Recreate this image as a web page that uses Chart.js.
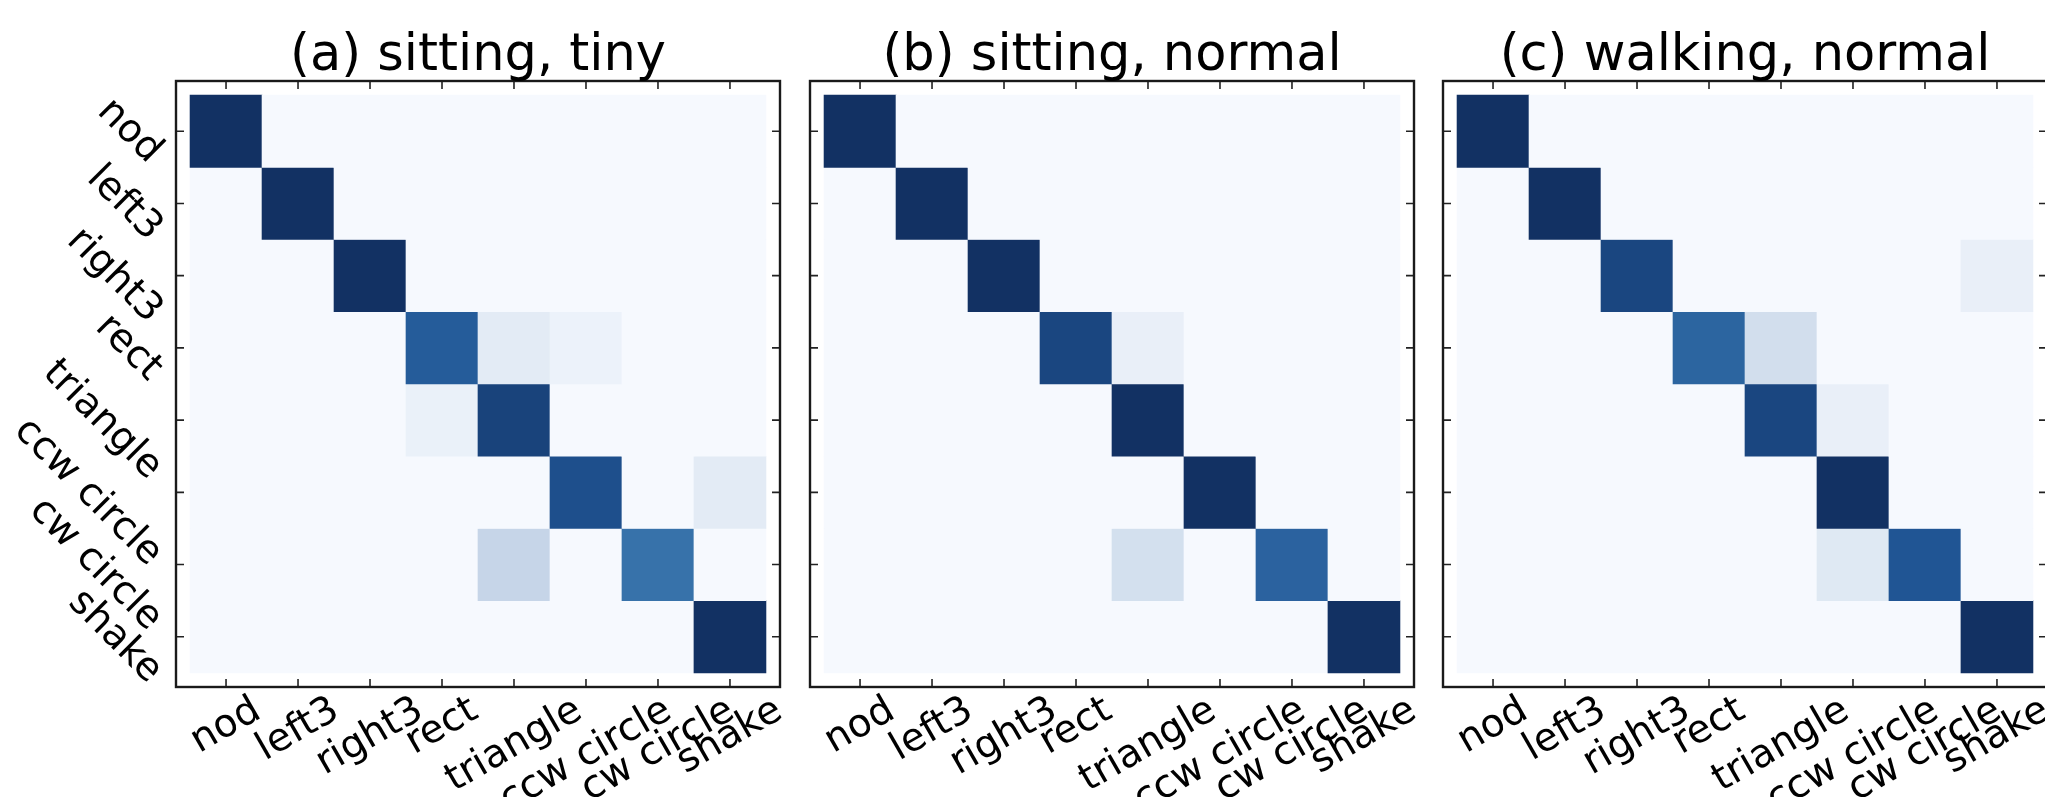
<!DOCTYPE html>
<html>
<head>
<meta charset="utf-8">
<script src="https://cdn.jsdelivr.net/npm/chart.js@4.4.1/dist/chart.umd.min.js"></script>
<style>
    html, body { margin: 0; padding: 0; background: #fff; overflow: hidden; }
    body { width: 2045px; height: 797px; position: relative; }
    canvas { position: absolute; top: 0; }
</style>
</head>
<body>
<canvas id="panelA" width="820" height="797" style="left:0px"></canvas>
<canvas id="panelB" width="820" height="797" style="left:634px"></canvas>
<canvas id="panelC" width="820" height="797" style="left:1267px"></canvas>
<script>
// Gesture classes (rows = true, columns = predicted)
const gestures = ['nod', 'left3', 'right3', 'rect', 'triangle', 'ccw circle', 'cw circle', 'shake'];
const titles = ['(a) sitting, tiny', '(b) sitting, normal', '(c) walking, normal'];

// Normalised confusion matrices, one row per true gesture
const sittingTiny = [
    [1, 0, 0, 0, 0, 0, 0, 0],
    [0, 1, 0, 0, 0, 0, 0, 0],
    [0, 0, 1, 0, 0, 0, 0, 0],
    [0, 0, 0, 0.85, 0.10, 0.05, 0, 0],
    [0, 0, 0, 0.06, 0.94, 0, 0, 0],
    [0, 0, 0, 0, 0, 0.90, 0, 0.10],
    [0, 0, 0, 0, 0.25, 0, 0.75, 0],
    [0, 0, 0, 0, 0, 0, 0, 1]
];
const sittingNormal = [
    [1, 0, 0, 0, 0, 0, 0, 0],
    [0, 1, 0, 0, 0, 0, 0, 0],
    [0, 0, 1, 0, 0, 0, 0, 0],
    [0, 0, 0, 0.93, 0.07, 0, 0, 0],
    [0, 0, 0, 0, 1, 0, 0, 0],
    [0, 0, 0, 0, 0, 1, 0, 0],
    [0, 0, 0, 0, 0.18, 0, 0.82, 0],
    [0, 0, 0, 0, 0, 0, 0, 1]
];
const walkingNormal = [
    [1, 0, 0, 0, 0, 0, 0, 0],
    [0, 1, 0, 0, 0, 0, 0, 0],
    [0, 0, 0.93, 0, 0, 0, 0, 0.07],
    [0, 0, 0, 0.81, 0.19, 0, 0, 0],
    [0, 0, 0, 0, 0.93, 0.07, 0, 0],
    [0, 0, 0, 0, 0, 1, 0, 0],
    [0, 0, 0, 0, 0, 0.12, 0.88, 0],
    [0, 0, 0, 0, 0, 0, 0, 1]
];

// Blues-like colour ramp
const rampStops = [
    [0.0, [246, 249, 254]],
    [0.125, [222, 232, 243]],
    [0.25, [198, 213, 232]],
    [0.375, [160, 190, 220]],
    [0.5, [115, 160, 200]],
    [0.625, [80, 135, 185]],
    [0.75, [55, 114, 170]],
    [0.875, [33, 86, 150]],
    [1.0, [18, 49, 99]]
];

const FONT = '"DejaVu Sans", "Liberation Sans", sans-serif';
const TICK_FONT = 39;
const TITLE_FONT = 51;
const MARGIN = 0.195;   // axes margin around the image, in cells

function blues(v) {
    for (let i = 1; i < rampStops.length; i++) {
        const [p1, c1] = rampStops[i];
        const [p0, c0] = rampStops[i - 1];
        if (v <= p1) {
            const t = (v - p0) / (p1 - p0);
            const c = c0.map((a, k) => Math.round(a + (c1[k] - a) * t));
            return `rgb(${c[0]}, ${c[1]}, ${c[2]})`;
        }
    }
    const c = rampStops[rampStops.length - 1][1];
    return `rgb(${c[0]}, ${c[1]}, ${c[2]})`;
}

// Draws the frame, inward ticks, rotated tick labels and the title
const framePlugin = {
    id: 'frame',
    beforeDatasetsDraw(chart) {
        const { ctx, scales: { x, y } } = chart;
        const n = gestures.length;
        const x0 = x.getPixelForValue(-0.5), x1 = x.getPixelForValue(n - 0.5);
        const y0 = y.getPixelForValue(-0.5), y1 = y.getPixelForValue(n - 0.5);
        ctx.save();
        ctx.fillStyle = blues(0);
        ctx.fillRect(x0, y0, x1 - x0, y1 - y0);
        ctx.restore();
    },
    afterDraw(chart, args, opts) {
        const { ctx, chartArea: area, scales: { x, y } } = chart;
        ctx.save();

        // ticks pointing inwards on all four sides
        ctx.strokeStyle = '#222';
        ctx.lineWidth = 1.6;
        const len = 8;
        gestures.forEach((g, i) => {
            const px = x.getPixelForValue(i);
            const py = y.getPixelForValue(i);
            ctx.beginPath();
            ctx.moveTo(px, area.bottom); ctx.lineTo(px, area.bottom - len);
            ctx.moveTo(px, area.top); ctx.lineTo(px, area.top + len);
            ctx.moveTo(area.left, py); ctx.lineTo(area.left + len, py);
            ctx.moveTo(area.right, py); ctx.lineTo(area.right - len, py);
            ctx.stroke();
        });

        // frame
        ctx.lineWidth = 2.4;
        ctx.strokeStyle = '#1a1a1a';
        ctx.strokeRect(area.left, area.top, area.right - area.left, area.bottom - area.top);

        ctx.fillStyle = '#000';
        ctx.font = `${TICK_FONT}px ${FONT}`;
        ctx.textAlign = 'center';
        ctx.textBaseline = 'alphabetic';
        const h = TICK_FONT;

        // x labels, rotated 30 degrees, centred under each tick
        const ax = 30 * Math.PI / 180;
        gestures.forEach((g, i) => {
            const w = ctx.measureText(g).width;
            const boxH = w * Math.sin(ax) + h * Math.cos(ax);
            ctx.save();
            ctx.translate(x.getPixelForValue(i), area.bottom + 4 + boxH / 2);
            ctx.rotate(-ax);
            ctx.fillText(g, 0, 0.26 * h);
            ctx.restore();
        });

        // y labels, rotated -45 degrees, right aligned to the axis
        if (opts.yLabels) {
            const ay = 45 * Math.PI / 180;
            gestures.forEach((g, i) => {
                const w = ctx.measureText(g).width;
                const boxW = (w + h) * Math.cos(ay);
                ctx.save();
                ctx.translate(area.left - 7 - boxW / 2, y.getPixelForValue(i));
                ctx.rotate(ay);
                ctx.fillText(g, 0, 0.26 * h);
                ctx.restore();
            });
        }

        // title
        ctx.font = `${TITLE_FONT}px ${FONT}`;
        ctx.fillText(opts.title, (area.left + area.right) / 2, area.top - 11);
        ctx.restore();
    }
};

function buildChart(canvasId, matrix, title, yLabels) {
    const n = gestures.length;
    const datasets = matrix.map((row, r) => ({
        label: gestures[r],
        data: row.map((v, c) => ({ x: c, y: [r - 0.5, r + 0.5] })),
        backgroundColor: row.map(v => blues(v)),
        borderWidth: 0,
        barPercentage: 1,
        categoryPercentage: 1,
        grouped: false
    }));

    const integerTicks = axis => { axis.ticks = gestures.map((g, i) => ({ value: i })); };

    return new Chart(document.getElementById(canvasId), {
        type: 'bar',
        data: { datasets },
        options: {
            responsive: false,
            animation: false,
            devicePixelRatio: 1,
            events: [],
            layout: { padding: { left: 176, top: 81, right: 40, bottom: 110 } },
            scales: {
                x: { type: 'linear', display: false, offset: false, min: -0.5 - MARGIN, max: n - 0.5 + MARGIN, afterBuildTicks: integerTicks },
                y: { type: 'linear', display: false, offset: false, reverse: true, min: -0.5 - MARGIN, max: n - 0.5 + MARGIN, afterBuildTicks: integerTicks }
            },
            plugins: {
                legend: { display: false },
                tooltip: { enabled: false },
                frame: { title, yLabels }
            }
        },
        plugins: [framePlugin]
    });
}

buildChart('panelA', sittingTiny, titles[0], true);
buildChart('panelB', sittingNormal, titles[1], false);
buildChart('panelC', walkingNormal, titles[2], false);
</script>
</body>
</html>
